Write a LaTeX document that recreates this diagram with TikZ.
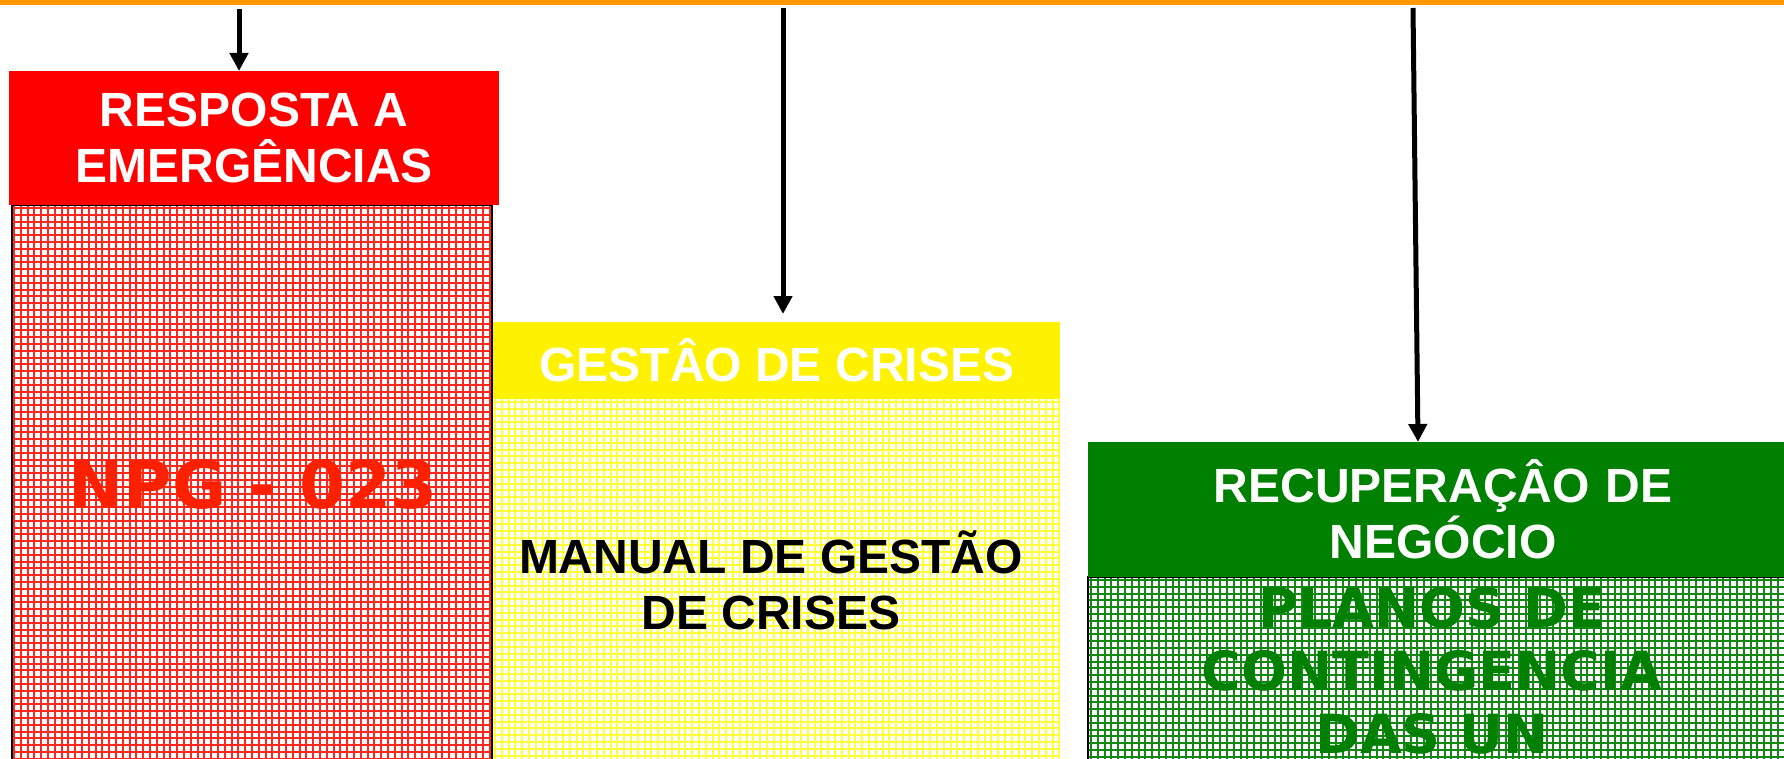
\documentclass[tikz,border=0pt]{standalone}
\usepackage{fontspec}
\setmainfont{Liberation Sans}
\newfontfamily\wide{DejaVu Sans}
\usetikzlibrary{arrows.meta,calc}

\definecolor{barorange}{RGB}{255,153,0}
\definecolor{npgred}{RGB}{255,32,0}
\definecolor{gridred}{RGB}{255,40,30}
\definecolor{gridyellow}{RGB}{255,255,60}
\definecolor{darkgreen}{RGB}{0,128,0}
\definecolor{gridgreen}{RGB}{20,135,20}

\begin{document}
\begin{tikzpicture}[x=1pt, y=-1pt,
    header/.style={rectangle, inner sep=0pt, align=center, anchor=north west,
      text=white, font=\fontsize{48}{56}\selectfont\bfseries},
    body/.style={align=center, font=\fontsize{48}{56}\selectfont\bfseries},
    hatch/.style={line width=2pt},
    feed/.style={line width=5pt, -{Triangle[length=18pt,width=18pt]}}]
    \useasboundingbox (0,0) rectangle (1784,759);
    \clip (0,0) rectangle (1784,759);
    \fill [barorange] (0,0) rectangle (1784,5);
    % hatched columns
    \foreach \x in {14,20.8,...,493} {
      \draw [hatch, gridred] (\x,205) -- (\x,759);
    }
    \foreach \y in {208,214.8,...,759} {
      \draw [hatch, gridred] (12,\y) -- (493,\y);
    }
    \draw [line width=1.5pt] (12,759) -- (12,205) -- (492,205) -- (492,759);
    \fill [white] (493,399) rectangle (1060,759);
    \foreach \x in {495,501.8,...,1060} {
      \draw [hatch, gridyellow] (\x,399) -- (\x,759);
    }
    \foreach \y in {402,408.8,...,759} {
      \draw [hatch, gridyellow] (493,\y) -- (1059,\y);
    }
    \foreach \x in {1091,1097.8,...,1784} {
      \draw [hatch, gridgreen] (\x,577) -- (\x,759);
    }
    \foreach \y in {580,586.8,...,759} {
      \draw [hatch, gridgreen] (1088,\y) -- (1784,\y);
    }
    \draw [line width=1.5pt] (1088,759) -- (1088,577) -- (1784,577);
    % headers
    \node at (9,71) [header, fill=red, minimum width=490pt, minimum height=134pt] (resposta) {RESPOSTA A\\EMERGÊNCIAS};
    \node at (493,322) [header, fill=yellow, minimum width=567pt, minimum height=77pt] (gestao) {GESTÂO DE CRISES};
    \node at (1088,442) [header, fill=darkgreen, minimum width=710pt, minimum height=135pt, text width=700pt] (recup) {RECUPERAÇÂO DE\\NEGÓCIO};
    % contents
    \node at (253,508) [anchor=base, text=npgred, font=\wide\fontsize{66}{72}\selectfont\bfseries] (npg) {NPG - 023};
    \node at (771,580) [body] (manual) {MANUAL DE GESTÃO\\DE CRISES};
    \node at (1432,671) [body, text=darkgreen, font=\wide\fontsize{54}{63}\selectfont\bfseries] (planos) {PLANOS DE\\CONTINGENCIA\\DAS UN};
    % arrows from the top bar
    \coordinate (top1) at (239,9);
    \coordinate (top2) at (783,8);
    \coordinate (top3) at (1413,8);
    \draw [feed] (top1) -- (top1 |- resposta.north);
    \draw [feed, shorten >=8pt] (top2) -- (top2 |- gestao.north);
    \draw [feed] (top3) -- ($(recup.north west)+(330,0)$);
\end{tikzpicture}
\end{document}
